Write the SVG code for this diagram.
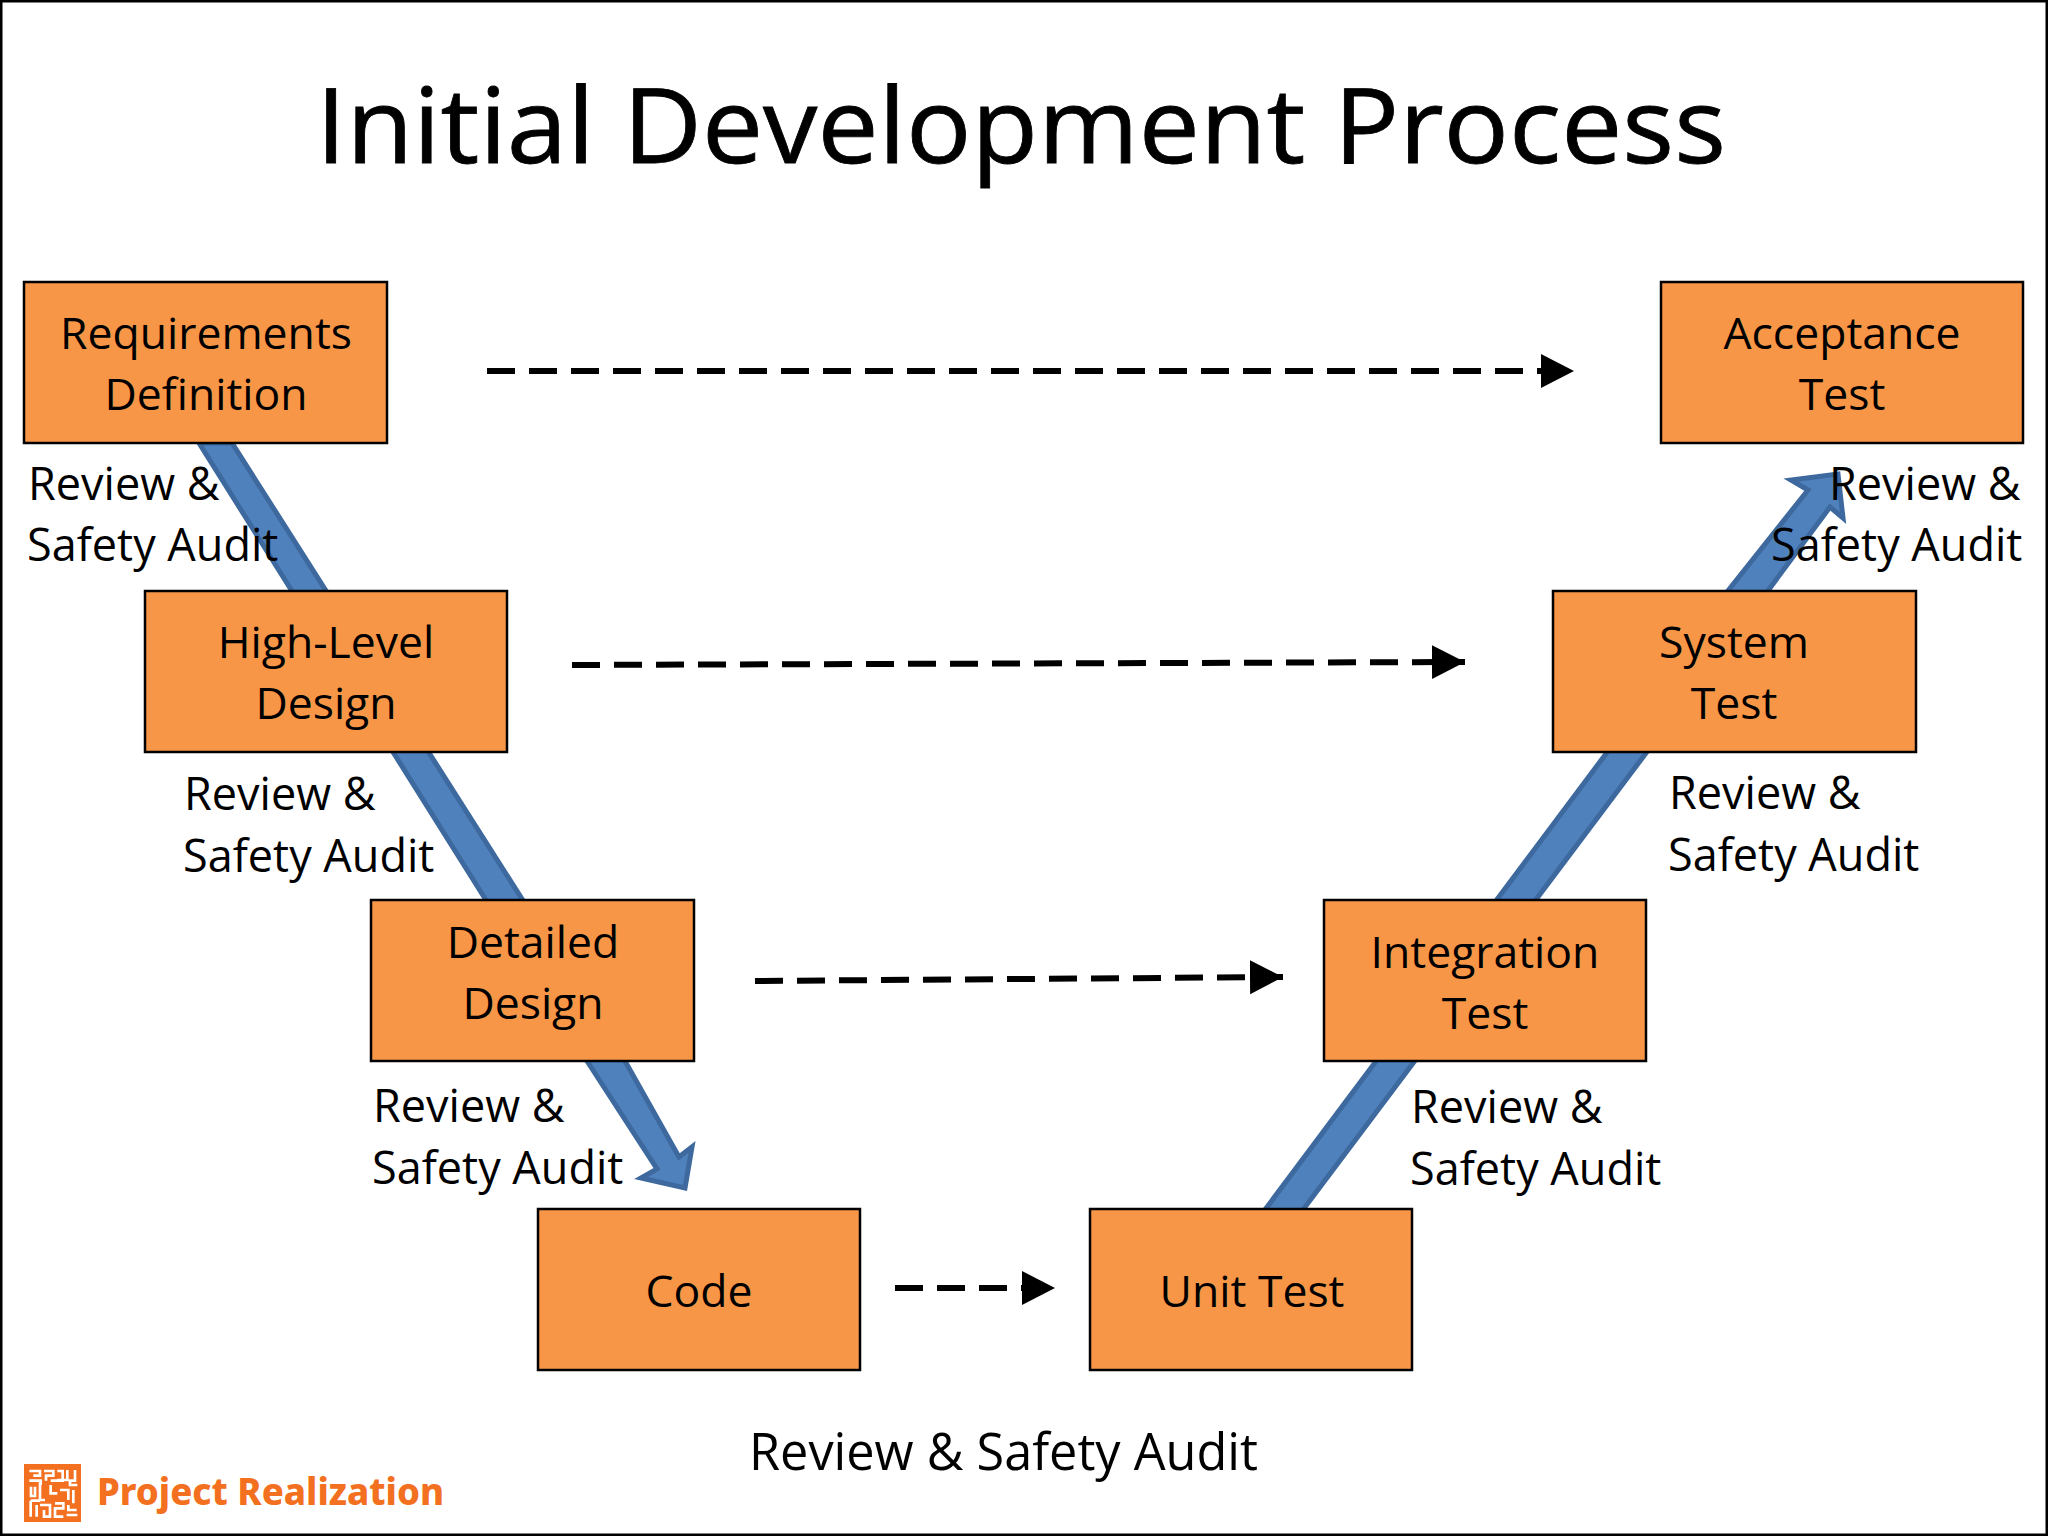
<svg xmlns="http://www.w3.org/2000/svg" width="2048" height="1536" viewBox="0 0 2048 1536">
<defs>
<marker id="ah" markerUnits="userSpaceOnUse" markerWidth="34" markerHeight="36" refX="33" refY="18" orient="auto"><path d="M0 1L33 18L0 35Z" fill="#000"/></marker>
<style>
text{font-family:"Open Sans","Noto Sans",sans-serif;fill:#000}
.b rect{fill:#f79646;stroke:#000;stroke-width:2.5}
.t{font-size:44.5px;text-anchor:middle}
.l{font-size:45px}
.d{fill:none;stroke:#000;stroke-width:6;stroke-dasharray:28 14;marker-end:url(#ah)}
.a{fill:#4f81bd;stroke:#3d699e;stroke-width:5;stroke-linejoin:miter}
</style>
</defs>
<rect x="1" y="1" width="2046" height="1534" fill="#fff" stroke="#000" stroke-width="3"/>
<text id="title" x="1021" y="163" text-anchor="middle" font-size="104" stroke="#000" stroke-width="0.8" textLength="1410" lengthAdjust="spacingAndGlyphs">Initial Development Process</text>
<g id="connectors">
<polygon class="a" points="199,443 232,443 625,1061 679,1157 692,1147 685,1188 641,1178 657,1169 587,1061"/>
<polygon class="a" points="1264,1211 1302,1211 1767,592 1830,507 1843,518 1838,474 1791,480 1808,490 1727,592"/>
<path class="d" d="M487 371H1574"/>
<path class="d" d="M572 665L1465 662"/>
<path class="d" d="M755 981L1283 977"/>
<path class="d" d="M895 1288H1055"/>
</g>
<g id="req" class="b"><rect x="24" y="282" width="363" height="161"/><text class="t" x="206" y="349">Requirements</text><text class="t" x="206" y="410">Definition</text></g>
<g id="hld" class="b"><rect x="145" y="591" width="362" height="161"/><text class="t" x="326" y="658">High-Level</text><text class="t" x="326" y="719">Design</text></g>
<g id="dd" class="b"><rect x="371" y="900" width="323" height="161"/><text class="t" x="533" y="958">Detailed</text><text class="t" x="533" y="1019">Design</text></g>
<g id="code" class="b"><rect x="538" y="1209" width="322" height="161"/><text class="t" x="699" y="1307">Code</text></g>
<g id="unit" class="b"><rect x="1090" y="1209" width="322" height="161"/><text class="t" x="1252" y="1307">Unit Test</text></g>
<g id="int" class="b"><rect x="1324" y="900" width="322" height="161"/><text class="t" x="1485" y="968">Integration</text><text class="t" x="1485" y="1029">Test</text></g>
<g id="sys" class="b"><rect x="1553" y="591" width="363" height="161"/><text class="t" x="1734" y="658">System</text><text class="t" x="1734" y="719">Test</text></g>
<g id="acc" class="b"><rect x="1661" y="282" width="362" height="161"/><text class="t" x="1842" y="349">Acceptance</text><text class="t" x="1842" y="410">Test</text></g>
<g id="labels">
<text class="l" x="28" y="500">Review &amp;</text><text class="l" x="27" y="561">Safety Audit</text>
<text class="l" x="184" y="810">Review &amp;</text><text class="l" x="183" y="872">Safety Audit</text>
<text class="l" x="373" y="1122">Review &amp;</text><text class="l" x="372" y="1184">Safety Audit</text>
<text class="l" x="1411" y="1123">Review &amp;</text><text class="l" x="1410" y="1185">Safety Audit</text>
<text class="l" x="1669" y="809">Review &amp;</text><text class="l" x="1668" y="871">Safety Audit</text>
<text class="l" x="1829" y="500">Review &amp;</text><text class="l" x="1771" y="561">Safety Audit</text>
<text x="749" y="1470" font-size="50.4">Review &amp; Safety Audit</text>
</g>
<g id="logo">
<rect x="24" y="1464" width="57" height="58" fill="#f37021"/>
<path transform="translate(20 1460) scale(.3333)" fill="none" stroke="#fff" stroke-width="8" d="M28 33H60V47H40M72 33H100V47H78V62M112 33H128V62H92M142 30V60H112M165 30V62H150V75H172M28 62H62V75M33 80V108H45V80M60 62V120H75M92 75V100H112M120 90H145V120M160 90V130M32 122H60M32 122V170M50 135V170M60 135H90V170H72V150M105 130H130V145H105V170H130M145 135V150H170M140 165H172"/>
<text x="97" y="1505" font-size="37.5" font-weight="800" textLength="347" lengthAdjust="spacingAndGlyphs" style="fill:#f37021;font-family:'Noto Sans',sans-serif">Project Realization</text>
</g>
</svg>
